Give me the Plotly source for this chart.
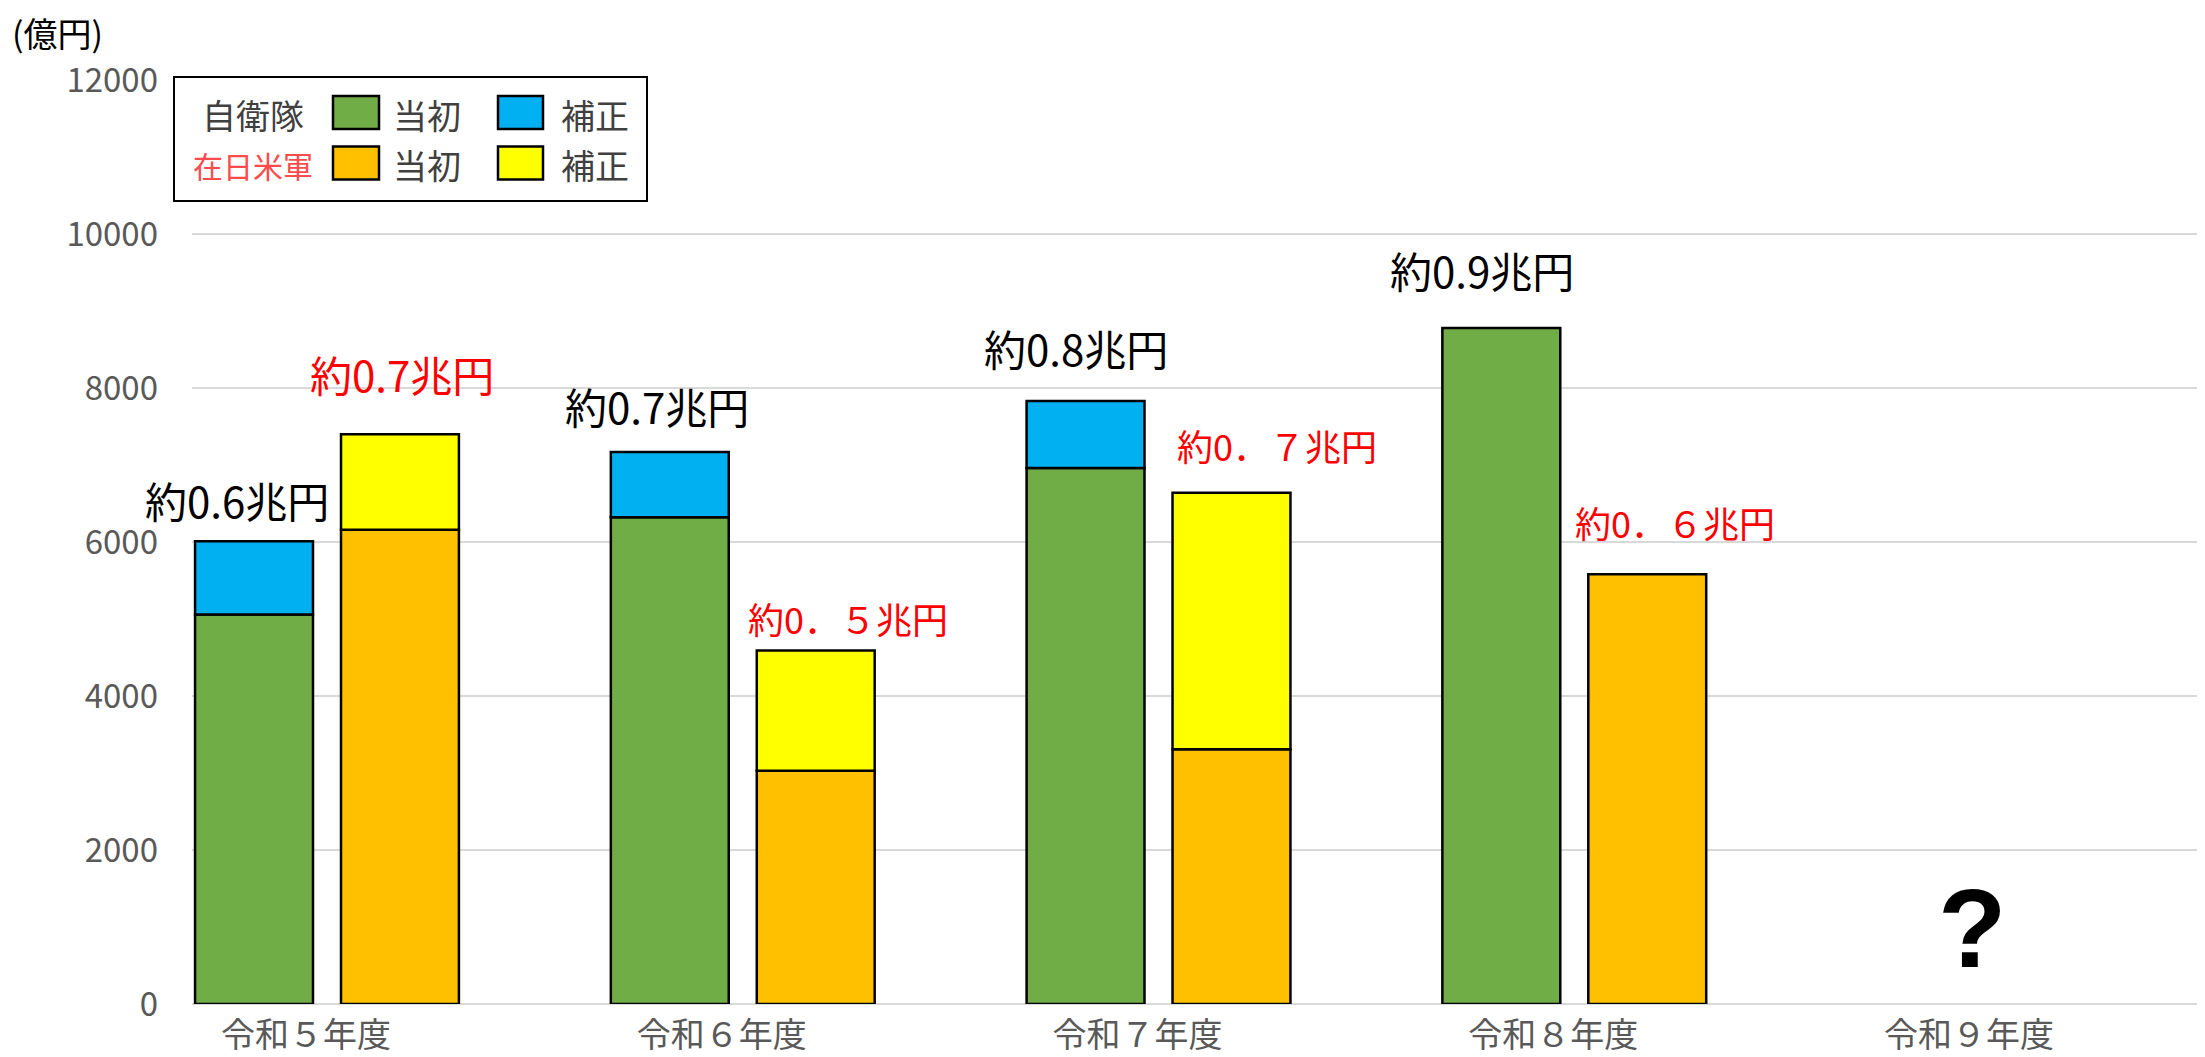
import plotly.graph_objects as go

# ---------------- data ----------------
years = ["令和５年度", "令和６年度", "令和７年度", "令和８年度", "令和９年度"]
jsdf_initial = [5060, 6320, 6960, 8780, None]
jsdf_supp = [950, 850, 870, None, None]
usfj_initial = [6160, 3030, 3310, 5580, None]
usfj_supp = [1240, 1560, 3330, None, None]

jsdf_labels = ["約0.6兆円", "約0.7兆円", "約0.8兆円", "約0.9兆円"]
usfj_labels = ["約0.7兆円", "約0．５兆円", "約0．７兆円", "約0．６兆円"]
unknown_label = "?"
y_ticks = [0, 2000, 4000, 6000, 8000, 10000, 12000]
y_unit = "(億円)"
legend_rows = ["自衛隊", "在日米軍"]
legend_items = ["当初", "補正"]

# ---------------- style ----------------
FONT = "Noto Sans CJK JP"
GREEN, BLUE, ORANGE, YELLOW = "#70AD47", "#00B0F0", "#FFC000", "#FFFF00"
GRID = "#D9D9D9"
TICK_COL = "#595959"
PAGE_OFF = 8                       # default body margin of the html page
W, H = 2205 - PAGE_OFF, 1057 - PAGE_OFF
PLOT_L, PLOT_T, PLOT_B = 192, 80, 1004   # plot area in page pixels
ML, MT, MR = PLOT_L - PAGE_OFF, PLOT_T - PAGE_OFF, 0
PH = PLOT_B - PLOT_T
MB = H - MT - PH
PW = W - ML - MR


def px(x):
    return (x - PLOT_L) / PW


def py(y):
    return (PLOT_B - y) / PH


def base_of(vals):
    return [v if v is not None else 0 for v in vals]


line = dict(color="black", width=2.5)
fig = go.Figure()
fig.add_trace(go.Bar(x=years, y=jsdf_initial, offsetgroup="jsdf", name="自衛隊 当初",
                     marker=dict(color=GREEN, line=line)))
fig.add_trace(go.Bar(x=years, y=jsdf_supp, base=base_of(jsdf_initial), offsetgroup="jsdf",
                     name="自衛隊 補正", marker=dict(color=BLUE, line=line)))
fig.add_trace(go.Bar(x=years, y=usfj_initial, offsetgroup="usfj", name="在日米軍 当初",
                     marker=dict(color=ORANGE, line=line)))
fig.add_trace(go.Bar(x=years, y=usfj_supp, base=base_of(usfj_initial), offsetgroup="usfj",
                     name="在日米軍 補正", marker=dict(color=YELLOW, line=line)))

annotations = []
# total labels above each bar (pixel offsets are styling)
jsdf_off = [(-17, 42), (-13, 46), (-10, 54), (-19, 58)]
usfj_off = [(2, 61), (32, 33), (45, 48), (28, 52)]
usfj_size = [42, 36, 36, 36]
for i, lab in enumerate(jsdf_labels):
    top = (jsdf_initial[i] or 0) + (jsdf_supp[i] or 0)
    dx, dy = jsdf_off[i]
    annotations.append(dict(x=years[i], y=top, xref="x", yref="y", text=lab, showarrow=False,
                            xshift=-73 + dx, yshift=dy, yanchor="middle",
                            font=dict(family=FONT, size=42, color="black")))
for i, lab in enumerate(usfj_labels):
    top = (usfj_initial[i] or 0) + (usfj_supp[i] or 0)
    dx, dy = usfj_off[i]
    annotations.append(dict(x=years[i], y=top, xref="x", yref="y", text=lab, showarrow=False,
                            xshift=73 + dx, yshift=dy, yanchor="middle",
                            font=dict(family=FONT, size=usfj_size[i], color="#FF0000")))
annotations.append(dict(x=years[4], y=0, xref="x", yref="y", text=f"<b>{unknown_label}</b>",
                        showarrow=False, xshift=-18, yshift=76, yanchor="middle",
                        font=dict(family="Liberation Sans", size=112, color="black")))
# unit label
annotations.append(dict(x=px(10), y=py(33), xref="paper", yref="paper", text=y_unit,
                        showarrow=False, xanchor="left", yanchor="middle",
                        font=dict(family=FONT, size=34, color="black")))

# ---------------- manual legend ----------------
shapes = [dict(type="rect", xref="paper", yref="paper", x0=px(174), x1=px(647), y0=py(201), y1=py(77),
               line=dict(color="black", width=2), fillcolor="white", layer="below")]
row_y = [112.5, 163]
row_col = ["#404040", "#FF4B4B"]
row_size = [34, 30]
sw_x = [(333, 379), (498, 543)]
lab_x = [427, 595]
colors = [[GREEN, BLUE], [ORANGE, YELLOW]]
for r, name in enumerate(legend_rows):
    annotations.append(dict(x=px(253), y=py(row_y[r] + 2), xref="paper", yref="paper", text=name,
                            showarrow=False, xanchor="center", yanchor="middle",
                            font=dict(family=FONT, size=row_size[r], color=row_col[r])))
    for c, item in enumerate(legend_items):
        shapes.append(dict(type="rect", xref="paper", yref="paper",
                           x0=px(sw_x[c][0]), x1=px(sw_x[c][1]),
                           y0=py(row_y[r] + 16.5), y1=py(row_y[r] - 16.5),
                           fillcolor=colors[r][c], line=dict(color="black", width=2.5), layer="above"))
        annotations.append(dict(x=px(lab_x[c]), y=py(row_y[r] + 2), xref="paper", yref="paper",
                                text=item, showarrow=False, xanchor="center", yanchor="middle",
                                font=dict(family=FONT, size=34, color="#404040")))

fig.update_layout(
    width=W, height=H,
    margin=dict(l=ML, r=MR, t=MT, b=MB, pad=0),
    paper_bgcolor="white", plot_bgcolor="white",
    barmode="group", bargap=0.298, bargroupgap=0.192,
    showlegend=False,
    annotations=annotations, shapes=shapes,
    font=dict(family=FONT),
)
fig.update_xaxes(type="category", categoryorder="array", categoryarray=years,
                 range=[-0.3247, 4.517], showgrid=False, showline=False, ticks="",
                 tickfont=dict(family=FONT, size=34, color=TICK_COL),
                 ticklabelshift=-21, ticklabelstandoff=8)
fig.update_yaxes(range=[0, 12000], tickvals=y_ticks, tickformat="d",
                 showgrid=True, gridcolor=GRID, gridwidth=2,
                 zeroline=True, zerolinecolor=GRID, zerolinewidth=2,
                 showline=False, ticks="", ticklabelstandoff=33,
                 tickfont=dict(family=FONT, size=33, color=TICK_COL))

fig.write_html("out.html")
